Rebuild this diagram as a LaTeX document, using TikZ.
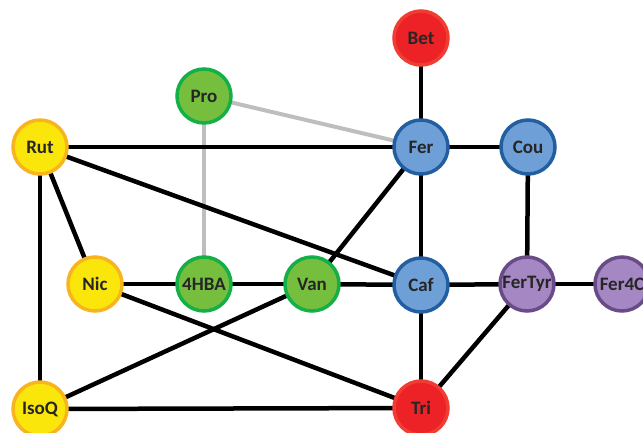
\documentclass[tikz,border=0pt]{standalone}
\usepackage{fontspec}
\setmainfont{Carlito}
\definecolor{redF}{RGB}{236,34,38}
\definecolor{redB}{RGB}{240,60,50}
\definecolor{grnF}{RGB}{118,190,62}
\definecolor{grnB}{RGB}{20,175,70}
\definecolor{yelF}{RGB}{250,230,10}
\definecolor{yelB}{RGB}{248,180,30}
\definecolor{bluF}{RGB}{110,160,215}
\definecolor{bluB}{RGB}{35,95,160}
\definecolor{purF}{RGB}{165,135,195}
\definecolor{purB}{RGB}{105,75,135}
\definecolor{grayE}{RGB}{190,190,190}
\tikzset{
  mol/.style={circle, minimum size=54pt, inner sep=0pt, line width=3.5pt, font=\bfseries\fontsize{19}{19}\selectfont, text=black!85},
  rednode/.style={mol, fill=redF, draw=redB},
  grnnode/.style={mol, fill=grnF, draw=grnB},
  yelnode/.style={mol, fill=yelF, draw=yelB},
  blunode/.style={mol, fill=bluF, draw=bluB},
  purnode/.style={mol, fill=purF, draw=purB},
  edge/.style={line width=4.5pt, black},
  gedge/.style={line width=4pt, grayE},
}
\begin{document}
\begin{tikzpicture}[x=1pt,y=-1pt]
\useasboundingbox (0,0) rectangle (643,432);
\clip (0,0) rectangle (643,432);
\coordinate (pBet) at (421,38);
\coordinate (pPro) at (204,96);
\coordinate (pRut) at (40,147);
\coordinate (pFer) at (421,147);
\coordinate (pCou) at (528,147);
\coordinate (pNic) at (95,284);
\coordinate (p4HBA) at (204,284);
\coordinate (pVan) at (312,284);
\coordinate (pCaf) at (421,285);
\coordinate (pFerTyr) at (527,284);
\coordinate (pFer4C) at (622,284);
\coordinate (pIsoQ) at (40,409);
\coordinate (pTri) at (421,408);
% edges
\draw[gedge] (pPro) -- (pFer);
\draw[gedge] (pPro) -- (p4HBA);
\draw[edge] (pBet) -- (pFer);
\draw[edge] (pRut) -- (pFer);
\draw[edge] (pRut) -- (pNic);
\draw[edge] (pRut) -- (pIsoQ);
\draw[edge] (pRut) -- (pCaf);
\draw[edge] (pFer) -- (pCou);
\draw[edge] (pFer) -- (pCaf);
\draw[edge] (pFer) -- (pVan);
\draw[edge] (pCou) -- (pFerTyr);
\draw[edge] (pNic) -- (p4HBA);
\draw[edge] (p4HBA) -- (pVan);
\draw[edge] (pVan) -- (pCaf);
\draw[edge] (pCaf) -- (pFerTyr);
\draw[edge] (pFerTyr) -- (pFer4C);
\draw[edge] (pNic) -- (pTri);
\draw[edge] (pVan) -- (pIsoQ);
\draw[edge] (pIsoQ) -- (pTri);
\draw[edge] (pCaf) -- (pTri);
\draw[edge] (pFerTyr) -- (pTri);
% nodes
\node[rednode] (Bet) at (pBet) {Bet};
\node[grnnode] (Pro) at (pPro) {Pro};
\node[yelnode] (Rut) at (pRut) {Rut};
\node[blunode] (Fer) at (pFer) {Fer};
\node[blunode] (Cou) at (pCou) {Cou};
\node[yelnode] (Nic) at (pNic) {Nic};
\node[grnnode] (HBA) at (p4HBA) {4HBA};
\node[grnnode] (Van) at (pVan) {Van};
\node[blunode] (Caf) at (pCaf) {Caf};
\node[purnode] (FerTyr) at (pFerTyr) {FerTyr};
\node[purnode] (Fer4C) at (pFer4C) {Fer4C};
\node[yelnode] (IsoQ) at (pIsoQ) {IsoQ};
\node[rednode] (Tri) at (pTri) {Tri};
\end{tikzpicture}
\end{document}
